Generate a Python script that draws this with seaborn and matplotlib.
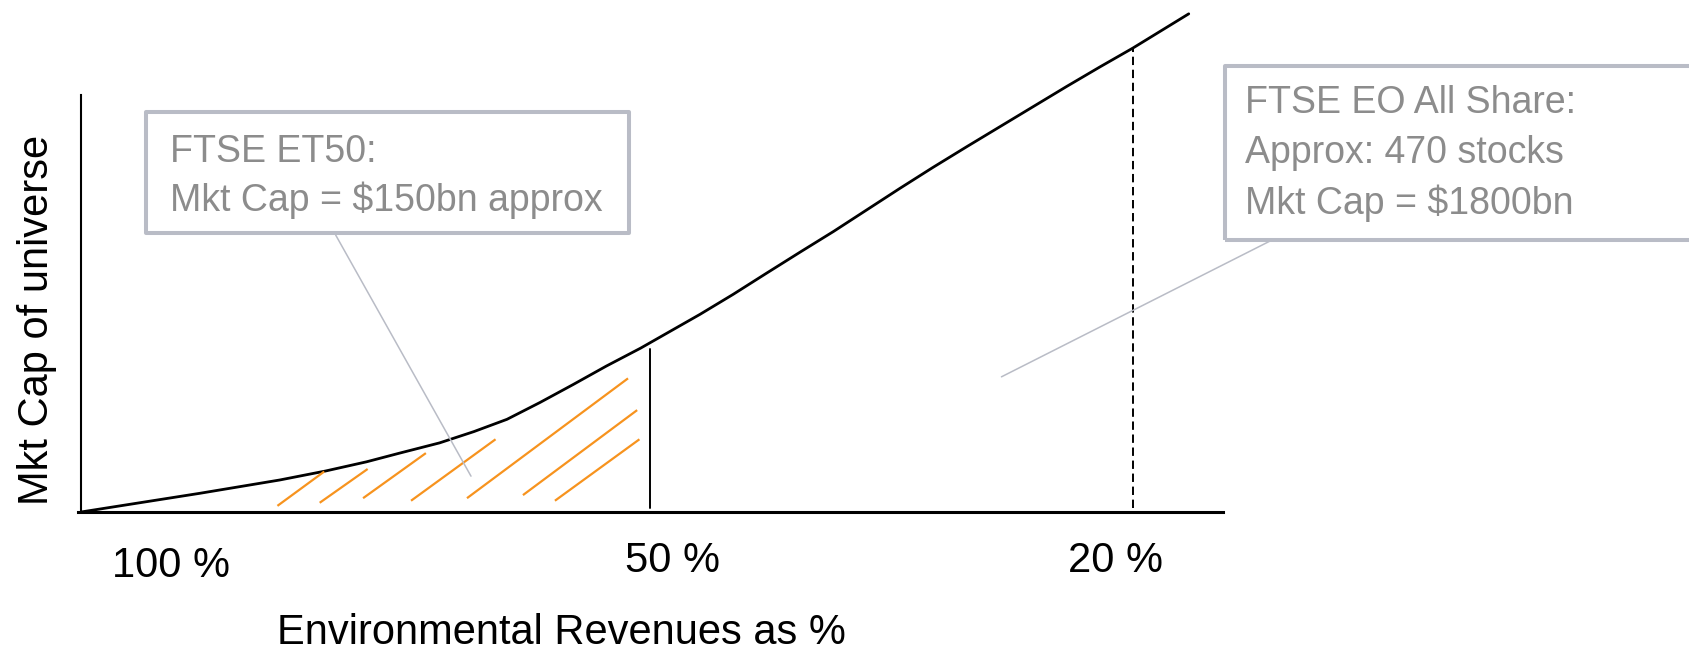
import matplotlib
matplotlib.use("Agg")
import matplotlib.pyplot as plt
import matplotlib.patches as mpatches
import matplotlib.transforms as mtransforms
import seaborn as sns

# curve: market cap of universe vs. environmental revenue threshold (schematic units 0-100)
curve_x = [0, 10.4, 17.4, 21.4, 25.0, 27.9, 31.4, 34.4, 37.3, 40.2, 43.1, 46.0, 49.0,
           54.2, 57.1, 60.0, 63.0, 65.9, 68.8, 71.7, 74.6, 77.6, 80.5, 83.4, 86.3,
           89.2, 92.1, 97.0]
curve_y = [0, 3.65, 6.25, 8.0, 9.8, 11.5, 13.5, 15.7, 18.1, 21.4, 24.9, 28.5, 32.0,
           38.6, 42.5, 46.6, 50.8, 54.8, 59.0, 63.2, 67.3, 71.4, 75.3, 79.2, 83.1,
           86.9, 90.6, 97.3]

# threshold markers
et50_x, et50_top = 49.8, 31.8
eo_x, eo_top = 92.1, 90.6

# hatch strokes under the curve (ET50 area)
hatch_x0 = [17.2, 20.9, 24.7, 28.9, 33.8, 38.7, 41.5]
hatch_y0 = [1.2, 1.8, 2.7, 2.2, 2.7, 3.3, 2.2]
hatch_x1 = [21.3, 25.1, 30.2, 36.3, 47.9, 48.7, 48.9]
hatch_y1 = [7.9, 8.4, 11.5, 14.2, 26.1, 19.9, 14.2]

tick_pos = [7.9, 51.8, 90.6]
tick_labels = ["100 %", "50 %", "20 %"]

box1_lines = ["FTSE ET50:", "Mkt Cap = $150bn approx"]
box2_lines = ["FTSE EO All Share:", "Approx: 470 stocks", "Mkt Cap = $1800bn"]

sns.set_theme(style="white")
plt.rcParams['font.family'] = ['Liberation Sans', 'DejaVu Sans']

fig = plt.figure(figsize=(16.9, 6.51), dpi=100)
ax = fig.add_axes([81 / 1690, 139 / 651, 1142 / 1690, 512 / 651])
ax.set_xlim(0, 100)
ax.set_ylim(0, 100)

sns.lineplot(x=curve_x, y=curve_y, color="black", linewidth=2.0, sort=False, ax=ax)

ax.plot([et50_x, et50_x], [0.8, et50_top], color="black", lw=1.4)
ax.plot([eo_x, eo_x], [0.8, eo_top], color="black", lw=1.4, linestyle=(0, (4.3, 2.4)))

for x0, y0, x1, y1 in zip(hatch_x0, hatch_y0, hatch_x1, hatch_y1):
    ax.plot([x0, x1], [y0, y1], color="#f7931e", lw=1.6, solid_capstyle="butt")

# annotation boxes and leader lines
edge = "#b9bcc6"
txt_col = "#8c8c8c"
ax.add_patch(mpatches.Rectangle((5.69, 54.49), 42.3, 23.64, fill=False, edgecolor=edge,
                                lw=2.9, clip_on=False, joinstyle="round"))
ax.add_patch(mpatches.Rectangle((100.18, 53.13), 50, 33.98, fill=False, edgecolor=edge,
                                lw=2.9, clip_on=False, joinstyle="round"))
ax.plot([22.3, 34.15], [54.1, 7.0], color=edge, lw=1.1, clip_on=False)
ax.plot([104.1, 80.6], [52.9, 26.4], color=edge, lw=1.1, clip_on=False)

for i, line in enumerate(box1_lines):
    ax.text(7.79, 68.4 - i * 9.6, line, fontsize=27, color=txt_col, va="baseline", ha="left")
for i, line in enumerate(box2_lines):
    ax.text(101.93, 77.9 - i * 9.8, line, fontsize=27, color=txt_col, va="baseline",
            ha="left", clip_on=False)

# axes styling
sns.despine(ax=ax, top=True, right=True)
ax.spines['left'].set_bounds(0, 81.4)
ax.spines['left'].set_linewidth(1.5)
ax.spines['left'].set_color("black")
ax.spines['bottom'].set_bounds(-0.3, 100)
ax.spines['bottom'].set_linewidth(2.2)
ax.spines['bottom'].set_color("black")
ax.set_yticks([])
ax.set_xticks(tick_pos, tick_labels)
ax.tick_params(axis='x', length=0, pad=21, labelsize=30, labelcolor="black")
lab0 = ax.get_xticklabels()[0]
lab0.set_transform(lab0.get_transform() +
                   mtransforms.ScaledTranslation(0, -5 / 100, fig.dpi_scale_trans))

ax.set_xlabel("Environmental Revenues as %", fontsize=30, color="black", va="baseline")
ax.xaxis.set_label_coords(0.4203, -0.258)
ax.set_ylabel("Mkt Cap of universe", fontsize=30, color="black", va="baseline")
ax.yaxis.set_label_coords(-0.0292, 0.375)

fig.savefig("out.png", dpi=100)
